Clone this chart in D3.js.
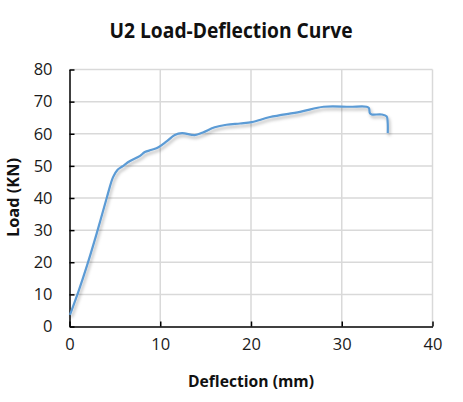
<!DOCTYPE html>
<html><head><meta charset="utf-8">
<script src="https://cdn.jsdelivr.net/npm/d3@7"></script>
<style>body{margin:0;background:#fff}svg{display:block}</style>
</head><body>
<script>
const deflection = [0.05,1.0,1.9,3.0,4.1,4.8,5.3,5.8,6.67,7.77,8.3,9.06,9.8,10.7,11.6,12.4,13.8,14.7,16.0,17.3,18.8,20.1,22.1,25.4,28.0,30.9,32.75,33.0,33.1,33.3,34.4,34.95,35.06,35.07];
const load = [3.6,11,18.7,29,40,46.5,48.8,49.8,51.5,53.1,54.3,55.0,55.8,57.6,59.6,60.2,59.6,60.4,62.0,62.8,63.2,63.6,65.2,66.8,68.4,68.4,68.4,68.0,66.4,66.0,66.0,65.4,63.5,60.2];
const xTicks = [0,10,20,30,40];
const yTicks = [0,10,20,30,40,50,60,70,80];
const title = "U2 Load-Deflection Curve";
const xTitle = "Deflection (mm)";
const yTitle = "Load (KN)";

const W=463,H=402;
const svg=d3.select("body").append("svg").attr("width",W).attr("height",H);
const defs=svg.append("defs");
const f=defs.append("filter").attr("id","sh").attr("x","-10%").attr("y","-10%").attr("width","130%").attr("height","130%");
f.append("feDropShadow").attr("dx",1.5).attr("dy",2.5).attr("stdDeviation",1.6).attr("flood-color","#000").attr("flood-opacity",0.28);

const x=d3.scaleLinear().domain([0,40]).range([69.5,432.5]);
const y=d3.scaleLinear().domain([0,80]).range([326.5,69.5]);

// gridlines
svg.append("g").selectAll("line").data(yTicks.slice(1)).join("line")
 .attr("x1",x(0)).attr("x2",x(40)).attr("y1",d=>y(d)).attr("y2",d=>y(d))
 .attr("stroke","#d9d9d9").attr("stroke-width",1.5);
svg.append("g").selectAll("line").data(xTicks.slice(1)).join("line")
 .attr("y1",y(0)).attr("y2",y(80)).attr("x1",d=>x(d)).attr("x2",d=>x(d))
 .attr("stroke","#d9d9d9").attr("stroke-width",1.5);

const font="'Open Sans', sans-serif";
// axes
const xa=svg.append("g").attr("transform",`translate(0,${y(0)})`)
 .call(d3.axisBottom(x).tickValues(xTicks).tickSizeInner(-5).tickSizeOuter(0).tickPadding(12));
const ya=svg.append("g").attr("transform",`translate(${x(0)},0)`)
 .call(d3.axisLeft(y).tickValues(yTicks).tickSizeInner(-5).tickSizeOuter(0).tickPadding(17));
[xa,ya].forEach(a=>{
 a.select(".domain").attr("stroke","#000").attr("stroke-width",1.5);
 a.selectAll(".tick line").attr("stroke","#000").attr("stroke-width",1.5);
 a.selectAll(".tick text").attr("font-family",font).attr("font-size",16.5).attr("fill","#1a1a1a");
});

// line
const line=d3.line().x((d,i)=>x(deflection[i])).y((d,i)=>y(load[i])).curve(d3.curveCatmullRom.alpha(0.5));
svg.append("path").datum(load).attr("d",line).attr("fill","none")
 .attr("stroke","#5b9bd5").attr("stroke-width",2.2).attr("stroke-linejoin","round").attr("filter","url(#sh)");

// titles
svg.append("text").attr("x",231).attr("y",37.5).attr("text-anchor","middle")
 .attr("font-family",font).attr("font-weight","bold").attr("font-size",20.5).attr("fill","#111")
 .attr("textLength",243).attr("lengthAdjust","spacingAndGlyphs").text(title);
svg.append("text").attr("x",251).attr("y",386.5).attr("text-anchor","middle")
 .attr("font-family",font).attr("font-weight","bold").attr("font-size",16).attr("fill","#111")
 .attr("textLength",126).attr("lengthAdjust","spacingAndGlyphs").text(xTitle);
svg.append("text").attr("transform","translate(19,197.5) rotate(-90)").attr("text-anchor","middle")
 .attr("font-family",font).attr("font-weight","bold").attr("font-size",16).attr("fill","#111")
 .attr("textLength",79).attr("lengthAdjust","spacingAndGlyphs").text(yTitle);
</script>
</body></html>
